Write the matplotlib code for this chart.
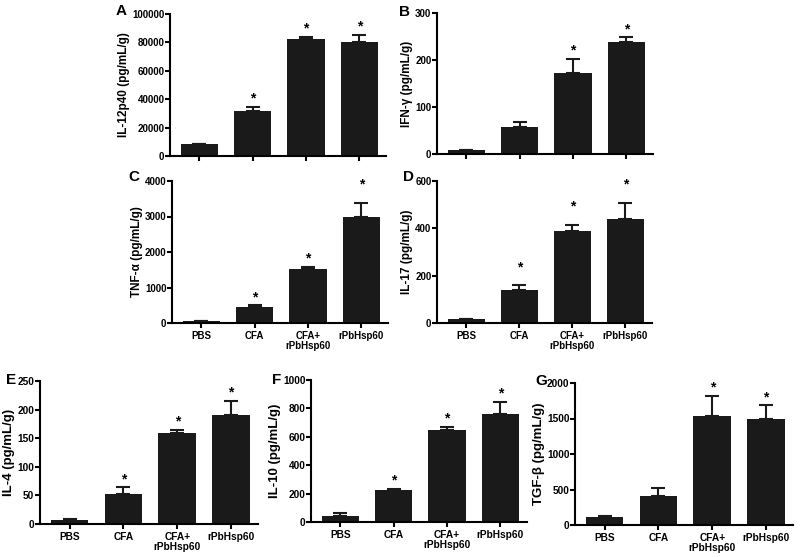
import matplotlib
matplotlib.use("Agg")
import matplotlib.pyplot as plt
import numpy as np

plt.rcParams['font.family'] = ['Liberation Sans', 'DejaVu Sans']
plt.rcParams['font.weight'] = 'bold'

groups = ['PBS', 'CFA', 'CFA+\nrPbHsp60', 'rPbHsp60']

il12_mean = [8200, 32000, 82500, 80000]
il12_err = [400, 2300, 1500, 5000]
il12_sig = [0, 1, 1, 1]

ifng_mean = [8, 57, 173, 238]
ifng_err = [1.5, 12, 30, 10]
ifng_sig = [0, 0, 1, 1]

tnfa_mean = [60, 440, 1510, 3000]
tnfa_err = [10, 55, 65, 380]
tnfa_sig = [0, 1, 1, 1]

il17_mean = [15, 139, 387, 440]
il17_err = [2, 21, 28, 69]
il17_sig = [0, 1, 1, 1]

il4_mean = [7.5, 52, 159, 191]
il4_err = [1, 12, 5, 24]
il4_sig = [0, 1, 1, 1]

il10_mean = [40, 225, 650, 760]
il10_err = [25, 8, 22, 85]
il10_sig = [0, 1, 1, 1]

tgfb_mean = [107, 403, 1539, 1497]
tgfb_err = [14, 118, 282, 187]
tgfb_sig = [0, 0, 1, 1]

W, H = 800, 557
fig = plt.figure(figsize=(W / 100, H / 100), dpi=100)


def rect(x0, x1, top, bottom):
    return [x0 / W, 1 - bottom / H, (x1 - x0) / W, (bottom - top) / H]


# letter, box (px), ylabel, data, yticks, xlabels?, label size, tick size, star offsets, letter pos
panels = [
    ('A', rect(170, 386, 14, 156), 'IL-12p40 (pg/mL/g)', il12_mean, il12_err, il12_sig,
     np.arange(0, 100001, 20000), False, 8.5, 7, [6, 6, 6, 6], (121, 11)),
    ('B', rect(437, 653, 13, 154), 'IFN-γ (pg/mL/g)', ifng_mean, ifng_err, ifng_sig,
     np.arange(0, 301, 100), False, 8.5, 7, [6, 6, 6, 6], (404, 12)),
    ('C', rect(172, 388, 181, 323), 'TNF-α (pg/mL/g)', tnfa_mean, tnfa_err, tnfa_sig,
     np.arange(0, 4001, 1000), True, 8.5, 7, [6, 6, 6, 13], (134, 177)),
    ('D', rect(437, 652, 181, 323), 'IL-17 (pg/mL/g)', il17_mean, il17_err, il17_sig,
     np.arange(0, 601, 200), True, 8.5, 7, [13, 13, 13, 13], (409, 177)),
    ('E', rect(40, 258, 381, 524), 'IL-4 (pg/mL/g)', il4_mean, il4_err, il4_sig,
     np.arange(0, 251, 50), True, 9.5, 7.3, [6, 6, 6, 6], (11, 380)),
    ('F', rect(311, 527, 380, 522), 'IL-10 (pg/mL/g)', il10_mean, il10_err, il10_sig,
     np.arange(0, 1001, 200), True, 9.5, 7.3, [6, 6, 6, 6], (277, 380)),
    ('G', rect(575, 793, 383, 525), 'TGF-β (pg/mL/g)', tgfb_mean, tgfb_err, tgfb_sig,
     np.arange(0, 2001, 500), True, 9.5, 7.3, [6, 6, 6, 6], (541, 381)),
]

bar_color = '#1a1a1a'
x = np.arange(len(groups))

for (letter, box, ylab, mean, err, sig, yt, show_x, lab_fs, tick_fs,
     star_off, letter_xy) in panels:
    ax = fig.add_axes(box)
    ax.bar(x, mean, width=0.7, color=bar_color, zorder=2)
    ax.errorbar(x, mean, yerr=[np.zeros(len(err)), err], fmt='none',
                ecolor=bar_color, elinewidth=1.5, capsize=5.2, capthick=1.5, zorder=1)
    for i in range(len(x)):
        if sig[i]:
            ax.annotate('*', xy=(x[i], mean[i] + err[i]), xytext=(0, star_off[i]),
                        textcoords='offset points', ha='center', va='center',
                        fontsize=10, fontweight='bold', color='black')
    ax.set_xlim(-0.55, 3.5)
    ax.set_ylim(0, yt[-1])
    ax.set_yticks(yt)
    ax.set_yticklabels([str(v) for v in yt], fontsize=tick_fs, fontweight='bold')
    ax.set_xticks(x)
    if show_x:
        ax.set_xticklabels(groups, fontsize=tick_fs, fontweight='bold', linespacing=1.1)
    else:
        ax.set_xticklabels([])
    ax.set_ylabel(ylab, fontsize=lab_fs, fontweight='bold', labelpad=1.5)
    for s in ['top', 'right']:
        ax.spines[s].set_visible(False)
    for s in ['left', 'bottom']:
        ax.spines[s].set_linewidth(1.5)
    ax.tick_params(axis='both', width=1.5, length=3.5, direction='out')
    ax.tick_params(axis='y', pad=0.5)
    ax.tick_params(axis='x', pad=2)
    fig.text(letter_xy[0] / W, 1 - letter_xy[1] / H, letter, fontsize=11,
             fontweight='bold', ha='center', va='center')

fig.savefig('out.png', dpi=100)
